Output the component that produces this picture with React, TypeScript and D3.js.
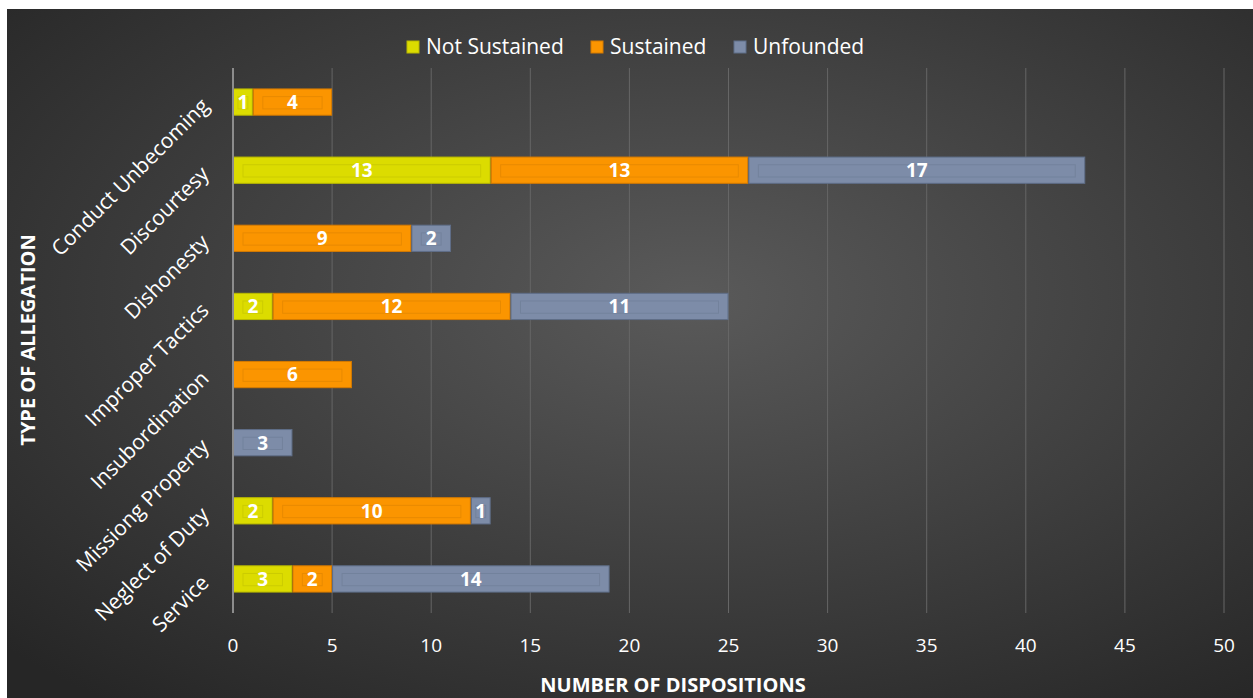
import React from "react";
import * as d3 from "d3";

const categories = [
  "Conduct Unbecoming",
  "Discourtesy",
  "Dishonesty",
  "Improper Tactics",
  "Insubordination",
  "Missiong Property",
  "Neglect of Duty",
  "Service",
];
const seriesNames = ["Not Sustained", "Sustained", "Unfounded"];
const notSustained = [1, 13, 0, 2, 0, 0, 2, 3];
const sustained = [4, 13, 9, 12, 6, 0, 10, 2];
const unfounded = [0, 17, 2, 11, 0, 3, 1, 14];
const xTicks = [0, 5, 10, 15, 20, 25, 30, 35, 40, 45, 50];

const colors = ["#dcdc00", "#fb9500", "#7d8ca8"];
const borders = ["#b9b900", "#d57a00", "#5f6e88"];
const inner = ["#cccc00", "#e88a00", "#73829c"];

const W = 1253;
const H = 698;
const FONT = "'Open Sans', 'DejaVu Sans', sans-serif";

export default function App() {
  const x = d3.scaleLinear().domain([0, 50]).range([233, 1224]);
  const y = d3
    .scaleBand<string>()
    .domain(categories)
    .range([68, 613])
    .paddingInner(0.6)
    .paddingOuter(0.3);

  const rows = categories.map((c, i) => ({
    cat: c,
    vals: [notSustained[i], sustained[i], unfounded[i]],
  }));
  const stack = d3
    .stack<any>()
    .keys(["0", "1", "2"])
    .value((d, k) => d.vals[+k]);
  const stacked = stack(rows);
  const bh = y.bandwidth();

  return (
    <svg
      width={W}
      height={H}
      style={{ position: "absolute", left: 0, top: 0, display: "block" }}
    >
      <defs>
        <radialGradient id="bg" cx="55%" cy="42%" r="75%">
          <stop offset="0%" stopColor="#5a5a5a" />
          <stop offset="100%" stopColor="#262626" />
        </radialGradient>
      </defs>
      <rect x={0} y={0} width={W} height={H} fill="#ffffff" />
      <rect x={7} y={9} width={W - 7} height={H - 9} fill="url(#bg)" />

      {/* gridlines */}
      {xTicks.map((t) =>
        t === 0 ? null : (
          <line
            key={t}
            x1={x(t)}
            x2={x(t)}
            y1={68}
            y2={613}
            stroke="#666666"
            strokeWidth={1}
          />
        )
      )}

      {/* bars */}
      {stacked.map((s, si) =>
        s.map((d, i) => {
          const v = d[1] - d[0];
          if (v <= 0) return null;
          const x0 = x(d[0]);
          const x1 = x(d[1]);
          const yy = y(categories[i])!;
          const w = x1 - x0;
          const inset = Math.min(10, w * 0.25);
          return (
            <g key={`${si}-${i}`}>
              <rect
                x={x0 + 0.5}
                y={yy + 0.5}
                width={w - 1}
                height={bh - 1}
                fill={colors[si]}
                stroke={borders[si]}
                strokeWidth={1}
              />
              <rect
                x={x0 + inset}
                y={yy + bh * 0.3}
                width={w - 2 * inset}
                height={bh * 0.45}
                fill="none"
                stroke={inner[si]}
                strokeWidth={1}
              />
              <text
                x={(x0 + x1) / 2}
                y={yy + bh / 2}
                dy="0.36em"
                textAnchor="middle"
                fill="#ffffff"
                fontWeight="bold"
                fontSize={19}
                fontFamily={FONT}
              >
                {v}
              </text>
            </g>
          );
        })
      )}

      {/* y axis line */}
      <line x1={233} x2={233} y1={68} y2={613} stroke="#8c8c8c" strokeWidth={2} />

      {/* x tick labels */}
      {xTicks.map((t) => (
        <text
          key={t}
          x={x(t)}
          y={645}
          dy="0.35em"
          textAnchor="middle"
          fill="#ffffff"
          fontSize={19}
          fontFamily={FONT}
        >
          {t}
        </text>
      ))}

      {/* category labels */}
      {categories.map((c) => {
        const cy = y(c)! + bh / 2;
        return (
          <text
            key={c}
            transform={`translate(205,${cy}) rotate(-45)`}
            textAnchor="end"
            fill="#ffffff"
            fontSize={21}
            fontFamily={FONT}
            dy="0.35em"
          >
            {c}
          </text>
        );
      })}

      {/* axis titles */}
      <text
        transform={`translate(28,340) rotate(-90)`}
        textAnchor="middle"
        dy="0.35em"
        fill="#ffffff"
        fontWeight="bold"
        fontSize={20}
        fontFamily={FONT}
      >
        TYPE OF ALLEGATION
      </text>
      <text
        x={673}
        y={685}
        textAnchor="middle"
        dy="0.35em"
        fill="#ffffff"
        fontWeight="bold"
        fontSize={20}
        fontFamily={FONT}
      >
        NUMBER OF DISPOSITIONS
      </text>

      {/* legend */}
      {seriesNames.map((n, i) => {
        const lx = [407, 591, 734][i];
        return (
          <g key={n}>
            <rect
              x={lx}
              y={41}
              width={12}
              height={12}
              fill={colors[i]}
              stroke={borders[i]}
            />
            <text
              x={lx + 19}
              y={47}
              dy="0.35em"
              fill="#ffffff"
              fontSize={21}
              fontFamily={FONT}
            >
              {n}
            </text>
          </g>
        );
      })}
    </svg>
  );
}
